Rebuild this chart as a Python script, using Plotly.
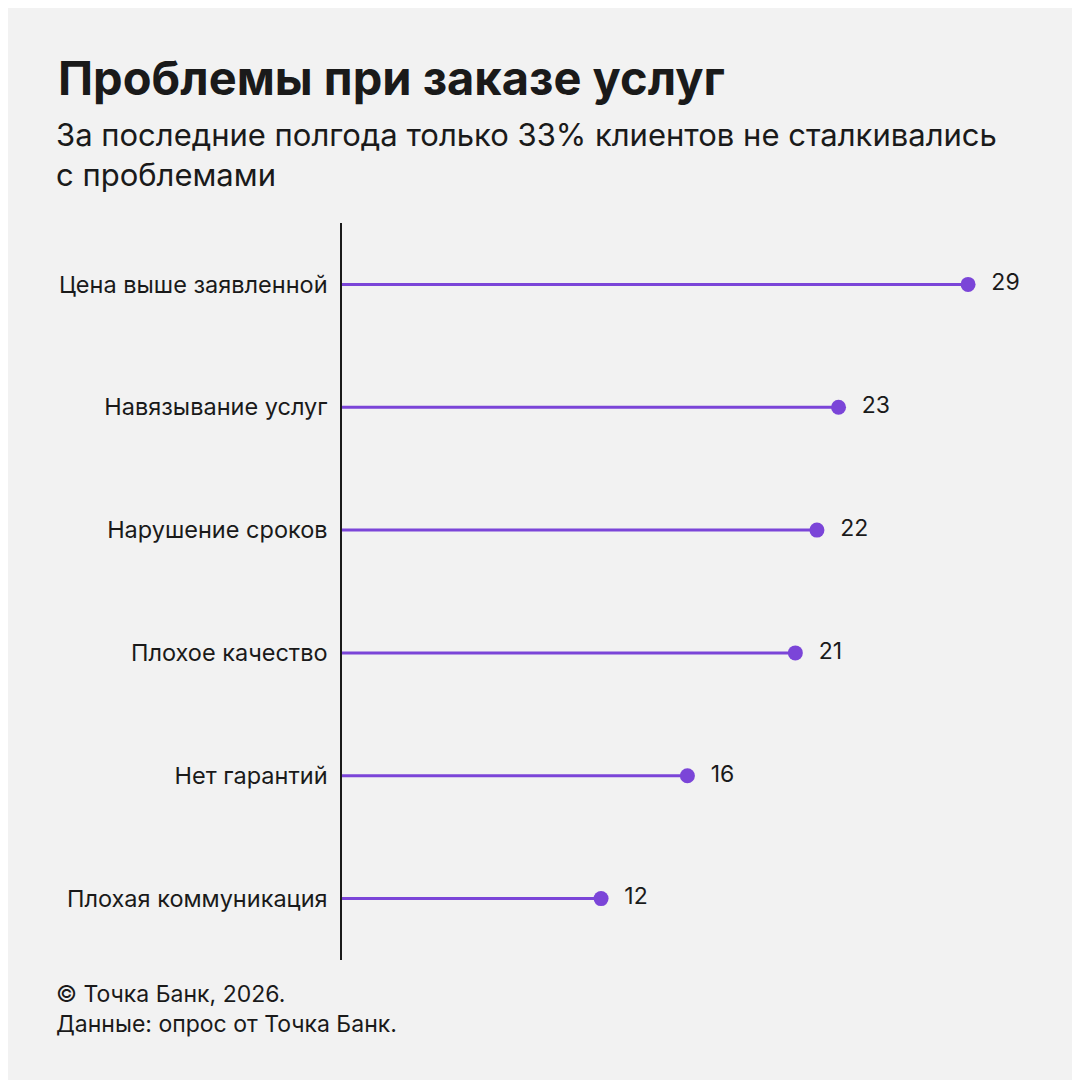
import plotly.graph_objects as go

categories = ["Цена выше заявленной", "Навязывание услуг", "Нарушение сроков",
              "Плохое качество", "Нет гарантий", "Плохая коммуникация"]
values = [29, 23, 22, 21, 16, 12]

color = "#7b45d8"
L, R, T, B = 334, 12, 215, 128
W = 1080 - L - R
H = 1080 - T - B
def px(x): return (x - L) / W
def py(y): return (1080 - B - y) / H

fig = go.Figure()
for c, v in zip(categories, values):
    fig.add_trace(go.Scatter(x=[0, v], y=[c, c], mode="lines",
                             line=dict(color=color, width=3), showlegend=False, hoverinfo="skip"))
fig.add_trace(go.Scatter(x=values, y=categories, mode="markers+text",
                         marker=dict(color=color, size=15),
                         text=["  " + str(v) for v in values], textposition="middle right",
                         textfont=dict(size=23, color="#1a1a1a", family="Inter"),
                         showlegend=False))

fig.update_layout(
    width=1080, height=1080,
    paper_bgcolor="#f2f2f2", plot_bgcolor="#f2f2f2",
    margin=dict(l=L, r=R, t=T, b=B),
    font=dict(family="Inter", color="#1a1a1a"),
    xaxis=dict(range=[0, 34], showgrid=False, zeroline=False, showticklabels=False,
               showline=False),
    yaxis=dict(categoryorder="array", categoryarray=categories[::-1], range=[-0.5, 5.5],
               showgrid=False, zeroline=False, showline=True, linecolor="#1a1a1a",
               linewidth=1.5, ticks="", tickfont=dict(size=23.5, color="#1a1a1a"),
               ticklabelstandoff=8),
    annotations=[
        dict(text="<b>Проблемы при заказе услуг</b>", x=px(48), y=py(70), xref="paper", yref="paper",
             xanchor="left", yanchor="middle", showarrow=False, font=dict(size=47)),
        dict(text="За последние полгода только 33% клиентов не сталкивались<br>с проблемами",
             x=px(46), y=py(106), xref="paper", yref="paper", xanchor="left", yanchor="top",
             align="left", showarrow=False, font=dict(size=31)),
        dict(text="© Точка Банк, 2026.<br>Данные: опрос от Точка Банк.",
             x=px(46), y=py(970), xref="paper", yref="paper", xanchor="left", yanchor="top",
             align="left", showarrow=False, font=dict(size=23)),
    ],
)
fig.write_html("out.html")
